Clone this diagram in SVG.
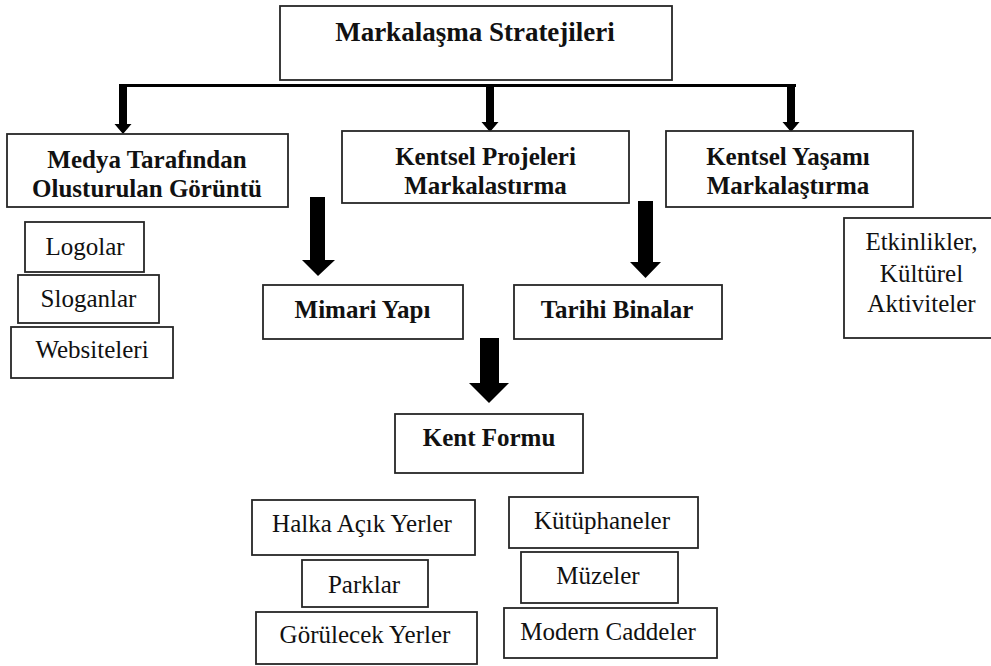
<svg xmlns="http://www.w3.org/2000/svg" width="991" height="666" viewBox="0 0 991 666">
<style>
rect.box{fill:#fff;stroke:#262626;stroke-width:1.8}
text{font-family:"Liberation Serif","Times New Roman",serif;font-size:25px;fill:#111;text-anchor:middle}
text.b{font-weight:bold}
text.t{font-size:27px}
.arr{fill:#000;stroke:none}
</style>
<rect width="991" height="666" fill="#fff"/>
<g id="connectors">
<rect class="arr" x="122" y="84" width="674" height="3"/>
<polygon class="arr" points="119,84 127,84 127,124 131.5,124 123,134 114.5,124 119,124"/>
<polygon class="arr" points="486,84 494,84 494,122 498.5,122 490,132 481.5,122 486,122"/>
<polygon class="arr" points="787,84 795,84 795,122 799.5,122 791,132 782.5,122 787,122"/>
<polygon class="arr" points="310,197 325,197 325,260 335,260 318,276 302,260 310,260"/>
<polygon class="arr" points="638,201 653,201 653,262 661,262 645.5,278 630,262 638,262"/>
<polygon class="arr" points="480,338 499,338 499,383 509,383 489,403 469,383 480,383"/>
</g>
<g id="root"><rect class="box" x="280" y="6" width="392" height="74"/><text class="b t" x="475" y="41">Markalaşma Stratejileri</text></g>
<g id="medya"><rect class="box" x="7" y="134" width="281" height="73"/><text class="b" x="147" y="168">Medya Tarafından</text><text class="b" x="147" y="197">Olusturulan Görüntü</text></g>
<g id="projeler"><rect class="box" x="342" y="131" width="287" height="72"/><text class="b" x="485.5" y="165">Kentsel Projeleri</text><text class="b" x="485.5" y="194">Markalastırma</text></g>
<g id="yasam"><rect class="box" x="666" y="131" width="247" height="76"/><text class="b" x="788" y="165">Kentsel Yaşamı</text><text class="b" x="788" y="194">Markalaştırma</text></g>
<g id="logolar"><rect class="box" x="25" y="222" width="119" height="50"/><text x="85" y="255">Logolar</text></g>
<g id="sloganlar"><rect class="box" x="18" y="275" width="141" height="48"/><text x="88.5" y="307">Sloganlar</text></g>
<g id="websiteleri"><rect class="box" x="11" y="327" width="162" height="51"/><text x="92" y="358">Websiteleri</text></g>
<g id="mimari"><rect class="box" x="263" y="285" width="200" height="54"/><text class="b" x="362.5" y="318">Mimari Yapı</text></g>
<g id="tarihi"><rect class="box" x="514" y="285" width="208" height="54"/><text class="b" x="617" y="318">Tarihi Binalar</text></g>
<g id="etkinlikler"><rect class="box" x="844" y="218" width="160" height="120"/><text x="921.5" y="250">Etkinlikler,</text><text x="921.5" y="282">Kültürel</text><text x="921.5" y="312">Aktiviteler</text></g>
<g id="kentformu"><rect class="box" x="395" y="414" width="188" height="59"/><text class="b" x="489" y="446">Kent Formu</text></g>
<g id="halka"><rect class="box" x="252" y="500" width="223" height="55"/><text x="362" y="532">Halka Açık Yerler</text></g>
<g id="parklar"><rect class="box" x="302" y="560" width="126" height="47"/><text x="364" y="593">Parklar</text></g>
<g id="gorulecek"><rect class="box" x="256" y="612" width="221" height="52"/><text x="365" y="643">Görülecek Yerler</text></g>
<g id="kutuphaneler"><rect class="box" x="509" y="497" width="189" height="51"/><text x="602" y="529">Kütüphaneler</text></g>
<g id="muzeler"><rect class="box" x="521" y="552" width="157" height="51"/><text x="598" y="584">Müzeler</text></g>
<g id="modern"><rect class="box" x="504" y="608" width="213" height="50"/><text x="608" y="640">Modern Caddeler</text></g>
</svg>
